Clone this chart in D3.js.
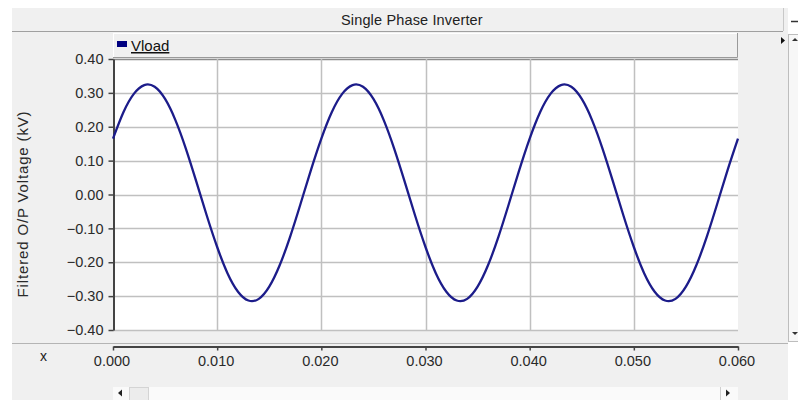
<!DOCTYPE html>
<html>
<head>
<meta charset="utf-8">
<script src="https://cdn.jsdelivr.net/npm/d3@7"></script>
<style>
  body { margin: 0; background: #fff; }
  svg { display: block; font-family: "Liberation Sans", Arial, sans-serif; }
</style>
</head>
<body>
<svg width="798" height="400"></svg>
<script>
// Single Phase Inverter - filtered output voltage, PSCAD style plot

var title = "Single Phase Inverter";
var yLabel = "Filtered O/P Voltage (kV)";
var seriesName = "Vload";

var dt = 0.001;
var vload = [
  0.165, 0.243, 0.297, 0.323, 0.318, 0.282, 0.219, 0.135, 0.038, -0.062,
  -0.155, -0.233, -0.287, -0.313, -0.308, -0.272, -0.209, -0.125, -0.028, 0.072,
  0.165, 0.243, 0.297, 0.323, 0.318, 0.282, 0.219, 0.135, 0.038, -0.062,
  -0.155, -0.233, -0.287, -0.313, -0.308, -0.272, -0.209, -0.125, -0.028, 0.072,
  0.165, 0.243, 0.297, 0.323, 0.318, 0.282, 0.219, 0.135, 0.038, -0.062,
  -0.155, -0.233, -0.287, -0.313, -0.308, -0.272, -0.209, -0.125, -0.028, 0.072,
  0.165
];

var xTicks = [0, 0.01, 0.02, 0.03, 0.04, 0.05, 0.06];
var yTicks = [-0.4, -0.3, -0.2, -0.1, 0, 0.1, 0.2, 0.3, 0.4];

var svg = d3.select("svg");

// plot box (note: "top" is taken by window.top, so use other names)
var pLeft = 113, pRight = 738, pTop = 59, pBottom = 330;

var x = d3.scaleLinear().domain([0, 0.06]).range([pLeft, pRight]);
var y = d3.scaleLinear().domain([-0.4, 0.4]).range([pBottom, pTop]);

// panel background
svg.append("rect").attr("x", 12).attr("y", 8).attr("width", 776).attr("height", 392).attr("fill", "#f0f0f0");

// title bar
svg.append("line").attr("x1", 12).attr("x2", 783).attr("y1", 31.5).attr("y2", 31.5).attr("stroke", "#a0a0a0");
svg.append("line").attr("x1", 783.5).attr("x2", 783.5).attr("y1", 8).attr("y2", 31).attr("stroke", "#c8c8c8");
svg.append("text").attr("x", 341).attr("y", 25).attr("font-size", 14.5).attr("fill", "#222")
  .attr("letter-spacing", 0.15).text(title);

// legend bar
svg.append("rect").attr("x", pLeft + 0.5).attr("y", 33.5).attr("width", pRight - pLeft - 1).attr("height", 24)
  .attr("fill", "#f0f0f0").attr("stroke", "#ffffff");
svg.append("path").attr("d", "M" + (pRight - 0.5) + ",33 V57.5 H" + pLeft)
  .attr("fill", "none").attr("stroke", "#9a9a9a");
svg.append("rect").attr("x", 117).attr("y", 41).attr("width", 10).attr("height", 6).attr("fill", "#000080");
svg.append("text").attr("x", 131).attr("y", 51).attr("font-size", 15).attr("fill", "#111")
  .attr("text-decoration", "underline").text(seriesName);

// plot area
svg.append("rect").attr("x", pLeft).attr("y", pTop).attr("width", pRight - pLeft).attr("height", pBottom - pTop)
  .attr("fill", "#ffffff");

// grid
svg.append("g").selectAll("line").data(yTicks).enter().append("line")
  .attr("x1", pLeft).attr("x2", pRight)
  .attr("y1", function(d) { return Math.round(y(d)) + 0.5; })
  .attr("y2", function(d) { return Math.round(y(d)) + 0.5; })
  .attr("stroke", function(d) { return d === 0.4 ? "#8c8c8c" : "#c0c0c0"; })
  .attr("stroke-width", 1.5);
svg.append("g").selectAll("line").data(xTicks.slice(1, -1)).enter().append("line")
  .attr("x1", function(d) { return Math.round(x(d)) + 0.5; })
  .attr("x2", function(d) { return Math.round(x(d)) + 0.5; })
  .attr("y1", pTop).attr("y2", pBottom)
  .attr("stroke", "#c0c0c0").attr("stroke-width", 1.5);

// y axis
var yAxis = svg.append("g").attr("transform", "translate(" + (pLeft + 0.5) + ",0)")
  .call(d3.axisLeft(y).tickValues(yTicks).tickFormat(d3.format(".2f")).tickSize(5).tickSizeOuter(0).tickPadding(5));
yAxis.select(".domain").attr("stroke", "#444").attr("stroke-width", 2);
yAxis.selectAll(".tick line").attr("stroke", "#444").attr("stroke-width", 1.5);
yAxis.selectAll("text").attr("font-size", 14.5).attr("fill", "#2a2a2a")
  .attr("font-family", "Liberation Sans, Arial, sans-serif");

svg.append("text").attr("transform", "translate(27.5,204) rotate(-90)").attr("text-anchor", "middle")
  .attr("font-size", 15).attr("letter-spacing", 0.85).attr("fill", "#2a2a2a").text(yLabel);

// signal
var line = d3.line()
  .x(function(d, i) { return x(i * dt); })
  .y(function(d) { return y(d); })
  .curve(d3.curveNatural);
svg.append("path").datum(vload).attr("d", line)
  .attr("fill", "none").attr("stroke", "#1c1c8a").attr("stroke-width", 2.3);

// separator between plot and x axis
svg.append("line").attr("x1", 12).attr("x2", 788).attr("y1", 343.5).attr("y2", 343.5).attr("stroke", "#b4b4b4");

// x axis
var xAxis = svg.append("g").attr("transform", "translate(0,346.5)")
  .call(d3.axisBottom(x).tickValues(xTicks).tickFormat(d3.format(".3f")).tickSize(4).tickSizeOuter(0).tickPadding(5));
xAxis.select(".domain").attr("stroke", "#444").attr("stroke-width", 2);
xAxis.selectAll(".tick line").attr("stroke", "#444").attr("stroke-width", 1.5);
xAxis.selectAll("text").attr("font-size", 14.5).attr("fill", "#2a2a2a").attr("dx", -1.5)
  .attr("font-family", "Liberation Sans, Arial, sans-serif");
svg.append("text").attr("x", 43.5).attr("y", 360.5).attr("text-anchor", "middle")
  .attr("font-size", 14).attr("fill", "#222").text("x");

// bottom scrollbar
svg.append("rect").attr("x", pLeft).attr("y", 387).attr("width", pRight - pLeft).attr("height", 13).attr("fill", "#fafafa");
svg.append("path").attr("d", "M118,393 L122,389.5 L122,396.5 Z").attr("fill", "#222");
svg.append("rect").attr("x", 129.5).attr("y", 387.5).attr("width", 19).attr("height", 13).attr("fill", "#ececec").attr("stroke", "#d4d4d4");
svg.append("line").attr("x1", 720.5).attr("x2", 720.5).attr("y1", 387).attr("y2", 400).attr("stroke", "#cfcfcf");
svg.append("path").attr("d", "M730,393 L726,389.5 L726,396.5 Z").attr("fill", "#222");

// right side controls
svg.append("path").attr("d", "M781,37 L785,40.5 L781,44 Z").attr("fill", "#111");
svg.append("rect").attr("x", 788.5).attr("y", 34.5).attr("width", 11).attr("height", 307).attr("fill", "#f7f7f7").attr("stroke", "#bdbdbd");
svg.append("path").attr("d", "M792,41 L795,38 L798,41 Z").attr("fill", "#333");
svg.append("path").attr("d", "M792,332 L795,335 L798,332 Z").attr("fill", "#333");
svg.append("line").attr("x1", 791).attr("x2", 798).attr("y1", 21.5).attr("y2", 21.5).attr("stroke", "#333").attr("stroke-width", 1.5);
</script>
</body>
</html>
